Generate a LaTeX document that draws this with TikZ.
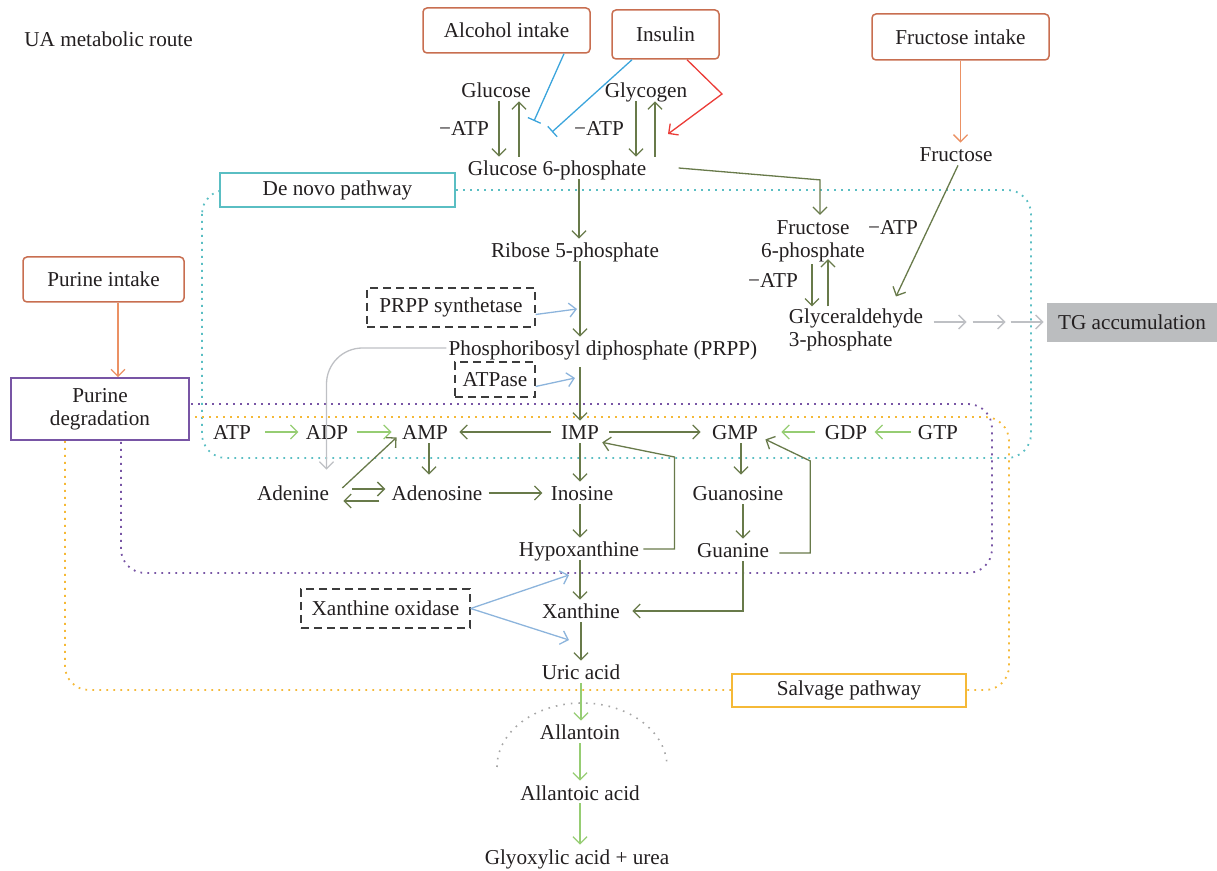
\documentclass[tikz,border=0pt]{standalone}
\usepackage{fontspec}
\setmainfont{Liberation Serif}
\usetikzlibrary{arrows.meta, positioning, calc}
\definecolor{ink}{RGB}{35,31,32}
\definecolor{olivec}{RGB}{104,122,74}
\definecolor{leafc}{RGB}{150,205,115}
\definecolor{skyc}{RGB}{140,180,220}
\definecolor{inhc}{RGB}{60,165,220}
\definecolor{redc}{RGB}{235,60,55}
\definecolor{intakec}{RGB}{200,110,80}
\definecolor{intakearr}{RGB}{235,145,100}
\definecolor{purpc}{RGB}{120,85,165}
\definecolor{tealc}{RGB}{90,190,195}
\definecolor{salvc}{RGB}{245,185,55}
\definecolor{greyc}{RGB}{190,192,196}
\definecolor{tgfill}{RGB}{187,189,191}
\definecolor{enzc}{RGB}{60,60,60}

\begin{document}
\begin{tikzpicture}[x=0.5pt, y=-0.5pt,
  every node/.style={font=\fontsize{10.6}{11.5}\selectfont, text=ink},
  cpd/.style={inner sep=1pt, text height=8.5pt, text depth=0.5pt},
  cpd2/.style={inner sep=1pt, align=center},
  intake/.style={draw=intakec, rounded corners=2pt, line width=0.75pt, fill=white, inner sep=0pt},
  tagbox/.style={line width=0.75pt, fill=white, inner sep=0pt},
  enzyme/.style={draw=enzc, dash pattern=on 4pt off 2.5pt, line width=0.65pt, fill=white, inner sep=0pt},
  region/.style={line width=0.9pt, dash pattern=on 0.9pt off 2.6pt, rounded corners=12pt},
  darr/.style={draw=olivec, line width=0.65pt, -{Straight Barb[length=3.5pt, width=7pt]}},
  larr/.style={darr, draw=leafc},
  barr/.style={darr, draw=skyc},
  garr/.style={darr, draw=greyc},
  oarr/.style={darr, draw=intakearr},
  rarr/.style={darr, draw=redc},
  inh/.style={draw=inhc, line width=0.65pt, -{Bar[width=7pt]}},
  arcdot/.style={draw=gray!70, line width=0.8pt, dash pattern=on 0.8pt off 3pt}]
  \useasboundingbox (0,0) rectangle (1217,871);

  \draw[region, draw=tealc] (202,190) rectangle (1031,458);
  \draw[region, draw=purpc] (121,404) rectangle (992,573);
  \draw[region, draw=salvc] (65,417) rectangle (1009,690);
  \draw[arcdot] (497,767) arc[start angle=180, end angle=360, x radius=85, y radius=64];

  \node[anchor=west, inner sep=0pt] (title) at (24,39) {UA metabolic route};
  \node[intake, minimum width=83.5pt, minimum height=22.5pt] (alc) at (506.5,30.5) {Alcohol intake};
  \node[intake, minimum width=53.5pt, minimum height=24.5pt] (ins) at (665.5,34.5) {Insulin};
  \node[intake, minimum width=88.5pt, minimum height=23pt] (fri) at (960.5,37) {Fructose intake};
  \node[intake, minimum width=80.5pt, minimum height=22.5pt] (pint) at (103.5,279.5) {Purine intake};
  \node[tagbox, draw=purpc, minimum width=89pt, minimum height=31pt, align=center] (pdeg) at (100,409) {Purine\\degradation};
  \node[tagbox, draw=tealc, minimum width=117.5pt, minimum height=17pt] (denovo) at (337.5,190) {De novo pathway};
  \node[tagbox, draw=salvc, minimum width=117pt, minimum height=16.5pt] (salv) at (849,690.5) {Salvage pathway};
  \node[enzyme, minimum width=84pt, minimum height=19.5pt] (prpps) at (451,307.5) {PRPP synthetase};
  \node[enzyme, minimum width=40pt, minimum height=17.5pt] (atpase) at (495,379.5) {ATPase};
  \node[enzyme, minimum width=84.5pt, minimum height=19.5pt] (xo) at (385.5,608.5) {Xanthine oxidase};
  \node[fill=tgfill, inner sep=0pt, minimum width=85pt, minimum height=19.5pt] (tg) at (1132,322.5) {TG accumulation};

  \node[cpd] (glc) at (496,90) {Glucose};
  \node[cpd] (gly) at (646,90) {Glycogen};
  \node[cpd] (mA) at (464,128) {−ATP};
  \node[cpd] (mB) at (599,128) {−ATP};
  \node[cpd] (g6p) at (557,168) {Glucose 6-phosphate};
  \node[cpd] (fru) at (956,154) {Fructose};
  \node[cpd] (r5p) at (575,250) {Ribose 5-phosphate};
  \node[cpd2] (f6p) at (813,241) {Fructose\\6-phosphate};
  \node[cpd] (mC) at (893,227) {−ATP};
  \node[cpd] (mD) at (773,280) {−ATP};
  \node[cpd2, align=left] (g3p) at (856,330) {Glyceraldehyde\\3-phosphate};
  \node[cpd] (prpp) at (603,348) {Phosphoribosyl diphosphate (PRPP)};
  \node[cpd] (atp) at (232,432) {ATP};
  \node[cpd] (adp) at (327,432) {ADP};
  \node[cpd] (amp) at (425,432) {AMP};
  \node[cpd] (imp) at (580,432) {IMP};
  \node[cpd] (gmp) at (735,432) {GMP};
  \node[cpd] (gdp) at (846,432) {GDP};
  \node[cpd] (gtp) at (938,432) {GTP};
  \node[cpd] (ade) at (293,493) {Adenine};
  \node[cpd] (ados) at (437,493) {Adenosine};
  \node[cpd] (ino) at (582,493) {Inosine};
  \node[cpd] (guo) at (738,493) {Guanosine};
  \node[cpd] (hyp) at (579,549) {Hypoxanthine};
  \node[cpd] (gua) at (733,550) {Guanine};
  \node[cpd] (xan) at (581,611) {Xanthine};
  \node[cpd] (uric) at (581,672) {Uric acid};
  \node[cpd] (alla) at (580,732) {Allantoin};
  \node[cpd] (alac) at (580,792) {Allantoic acid};
  \node[cpd] (glyox) at (577,856) {Glyoxylic acid + urea};

  \coordinate (blkA) at (534,121);
  \coordinate (blkB) at (552,132);
  \coordinate (redbend) at (722,94);
  \coordinate (redtip) at (668,134);
  \coordinate (psA) at (577,309);
  \coordinate (paA) at (575,378);
  \coordinate (xoA) at (569,575);
  \coordinate (xoB) at (569,640);

  \draw[inh] ([xshift=28.75pt]alc.south) -- (blkA);
  \draw[inh] ([xshift=-16.75pt]ins.south) -- (blkB);
  \draw[rarr] ([xshift=10.75pt]ins.south) -- (redbend) -- (redtip);
  \draw[darr] ([xshift=1.5pt]glc.south) -- ([xshift=1.5pt]glc.south |- g6p.north);
  \draw[darr] ([xshift=11.5pt]glc.south |- g6p.north) -- ([xshift=11.5pt]glc.south);
  \draw[darr] ([xshift=-5pt]gly.south) -- ([xshift=-5pt]gly.south |- g6p.north);
  \draw[darr] ([xshift=4.5pt]gly.south |- g6p.north) -- ([xshift=4.5pt]gly.south);
  \draw[darr] ([xshift=15pt]g6p.east) -- ([xshift=3.5pt,yshift=19pt]f6p.north) -- ([xshift=3.5pt,yshift=1.5pt]f6p.north);
  \draw[oarr] (fri.south) -- (fri.south |- fru.north);
  \draw[darr] ([xshift=1pt]fru.south) -- ([xshift=20pt,yshift=5pt]g3p.north);
  \draw[darr] ([xshift=-0.5pt]f6p.south) -- ([xshift=-0.5pt]f6p.south |- g3p.north);
  \draw[darr] ([xshift=7.5pt]f6p.south |- g3p.north) -- ([xshift=7.5pt,yshift=2.5pt]f6p.south);
  \foreach \s in {0,39,77}
    \draw[garr] ([xshift=4pt,yshift=4pt]g3p.east) ++(\s,0) -- ++(33,0);
  \draw[oarr] ([xshift=7.25pt]pint.south) -- ([xshift=7.25pt]pint.south |- pdeg.north);

  \draw[darr] ([xshift=11pt]g6p.south) -- ([xshift=11pt]g6p.south |- r5p.north);
  \draw[darr] ([xshift=2.5pt]r5p.south) -- ([xshift=2.5pt]r5p.south |- prpp.north);
  \draw[barr] ([yshift=-3.5pt]prpps.east) -- (psA);
  \draw[garr, rounded corners=18pt] (prpp.west) -| ([xshift=16.75pt,yshift=6pt]ade.north);
  \draw[barr] ([yshift=-3.5pt]atpase.east) -- (paA);
  \draw[darr] ([yshift=-4pt]imp.north |- prpp.south) -- (imp.north);

  \draw[larr, shorten <=6pt, shorten >=2.5pt] (atp.east) -- (adp.west);
  \draw[larr, shorten <=3pt, shorten >=4pt] (adp.east) -- (amp.west);
  \draw[larr, shorten <=3.5pt, shorten >=10.5pt] (gdp.west) -- (gmp.east);
  \draw[larr, shorten <=2.5pt, shorten >=2.5pt] (gtp.west) -- (gdp.east);
  \draw[darr, shorten <=4pt, shorten >=4.5pt] (imp.west) -- (amp.east);
  \draw[darr, shorten <=4pt, shorten >=4.5pt] (imp.east) -- (gmp.west);

  \draw[darr] ([xshift=2pt]amp.south) -- ([xshift=2pt,yshift=3.5pt]amp.south |- ados.north);
  \draw[darr] ([xshift=5.5pt,yshift=2.5pt]ade.east) -- ([xshift=-1.5pt,yshift=3pt]amp.south west);
  \draw[darr] ([xshift=10.5pt,yshift=2pt]ade.east) -- ([xshift=-2pt,yshift=2pt]ados.west);
  \draw[darr] ([xshift=-5pt,yshift=-4pt]ados.west) -- ([xshift=6pt,yshift=-4pt]ade.east);
  \draw[darr] ([xshift=2pt]ados.east) -- ([xshift=-3pt]ino.west);
  \draw[darr] (imp.south) -- (imp.south |- ino.north);
  \draw[darr] ([xshift=-1pt]ino.south) -- ([xshift=-1pt]ino.south |- hyp.north);
  \draw[darr] ([xshift=1pt]hyp.east) -- ++(31,0) -- ++(0,-92) -- ([xshift=0.5pt,yshift=0.5pt]imp.south east);

  \draw[darr] ([xshift=3pt]gmp.south) -- ([xshift=3pt,yshift=3.5pt]gmp.south |- guo.north);
  \draw[darr] ([xshift=2.5pt]guo.south) -- ([xshift=2.5pt]guo.south |- gua.north);
  \draw[darr] ([xshift=4pt,yshift=-1.5pt]gua.east) -- ++(31,0) -- ++(0,-92) -- ([xshift=2.5pt,yshift=2pt]gmp.south east);

  \draw[darr] ([xshift=0.5pt]hyp.south) -- ([xshift=0.5pt]hyp.south |- xan.north);
  \draw[darr] ([xshift=5pt]gua.south) |- ([xshift=5pt]xan.east);
  \draw[barr] (xo.east) -- (xoA);
  \draw[barr] (xo.east) -- (xoB);
  \draw[darr] (xan.south) -- (xan.south |- uric.north);
  \draw[larr] (uric.south) -- (uric.south |- alla.north);
  \draw[larr] (alla.south) -- (alla.south |- alac.north);
  \draw[larr] (alac.south) -- (alac.south |- glyox.north);
\end{tikzpicture}
\end{document}
